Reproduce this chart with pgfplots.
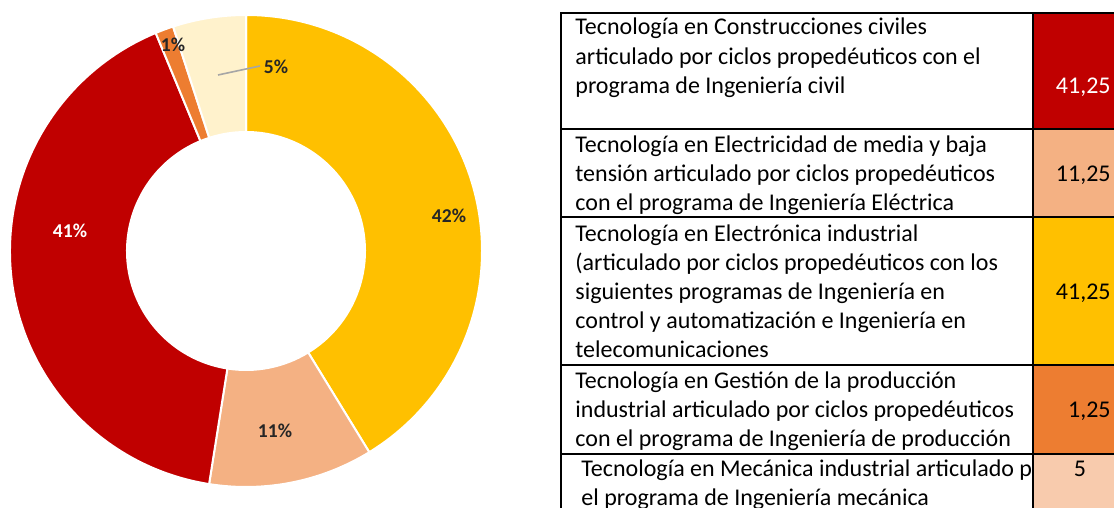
\documentclass[border=0pt]{standalone}
\usepackage{pgfplots}
\usepackage{pgfplotstable}
\pgfplotsset{compat=1.18}
\usepackage{fontspec}
\setmainfont{Carlito}
\definecolor{cRed}{HTML}{C00000}
\definecolor{cSalmon}{HTML}{F4B183}
\definecolor{cYellow}{HTML}{FFC000}
\definecolor{cOrange}{HTML}{ED7D31}
\definecolor{cCream}{HTML}{FFF2CC}
\definecolor{cPeach}{HTML}{F8CBAD}
\definecolor{cLabel}{HTML}{262626}

% donut slices, clockwise from 12 o'clock
\pgfplotstableread{
value color
41.25 cYellow
11.25 cSalmon
41.25 cRed
1.25 cOrange
5 cCream
}\donutdata

\newcommand\tline[3]{\node[anchor=base west, inner sep=0pt, font=\fontsize{12}{14.75}\selectfont] at (axis cs:#1,#2) {#3};}

\begin{document}
\begin{tikzpicture}
\useasboundingbox (0,0) rectangle (557pt,254pt);
\begin{axis}[
  at={(0,0)}, anchor=origin,
  x=0.5pt, y=0.5pt,
  xmin=0, xmax=1114, ymin=0, ymax=508,
  hide axis, clip=true,
]
% ---- donut ----
\xdef\startang{90}
\foreach \i in {0,...,4} {
  \pgfplotstablegetelem{\i}{value}\of\donutdata \let\val\pgfplotsretval
  \pgfplotstablegetelem{\i}{color}\of\donutdata \let\col\pgfplotsretval
  \pgfmathsetmacro\endang{\startang-3.6*\val}
  \edef\temp{\noexpand\fill[fill=\col, draw=white, line width=1pt]
    (axis cs:246,257) ++(\startang:118pt)
    arc[start angle=\startang, end angle=\endang, radius=118pt]
    -- ++(\endang+180:58.5pt)
    arc[start angle=\endang, end angle=\startang, radius=59.5pt] -- cycle;}
  \temp
  \xdef\startang{\endang}
}
% labels
\draw[color=black!35, line width=0.8pt] (axis cs:218,433) -- (axis cs:260,442);
\begin{scope}[every node/.style={font=\fontsize{9.8}{11}\selectfont\bfseries, text=cLabel, inner sep=0pt}]
\node at (axis cs:449,292) {42\%};
\node at (axis cs:275,77) {11\%};
\node[text=white] at (axis cs:70,277) {41\%};
\node at (axis cs:173,463) {1\%};
\node at (axis cs:276,441) {5\%};
\end{scope}
% ---- table ----
\tline{575}{473}{Tecnología en Construcciones civiles}
\tline{575}{443.5}{articulado por ciclos propedéuticos con el}
\tline{575}{414}{programa de Ingeniería civil}
\tline{575}{355}{Tecnología en Electricidad de media y baja}
\tline{575}{326}{tensión articulado por ciclos propedéuticos}
\tline{575}{297}{con el programa de Ingeniería Eléctrica}
\tline{575}{266}{Tecnología en Electrónica industrial}
\tline{575}{237}{(articulado por ciclos propedéuticos con los}
\tline{575}{208}{siguientes programas de Ingeniería en}
\tline{575}{179}{control y automatización e Ingeniería en}
\tline{575}{150}{telecomunicaciones}
\tline{575}{119}{Tecnología en Gestión de la producción}
\tline{575}{90}{industrial articulado por ciclos propedéuticos}
\tline{575}{61}{con el programa de Ingeniería de producción}
\tline{581}{31}{Tecnología en Mecánica industrial articulado p}
\tline{581}{2}{el programa de Ingeniería mecánica}
% coloured value cells
\fill[cRed] (axis cs:1033,495) rectangle (axis cs:1200,379);
\fill[cSalmon] (axis cs:1033,379) rectangle (axis cs:1200,291);
\fill[cYellow] (axis cs:1033,291) rectangle (axis cs:1200,143);
\fill[cOrange] (axis cs:1033,143) rectangle (axis cs:1200,54);
\fill[cPeach] (axis cs:1033,54) rectangle (axis cs:1200,-20);
% grid lines
\draw[line width=0.6pt] (axis cs:561,-20) -- (axis cs:561,495) -- (axis cs:1200,495);
\draw[line width=0.6pt] (axis cs:1033,-20) -- (axis cs:1033,495);
\foreach \yy in {379,291,143,54} {
  \edef\temp{\noexpand\draw[line width=0.6pt] (axis cs:561,\yy) -- (axis cs:1200,\yy);}
  \temp
}
% values
\begin{scope}[every node/.style={font=\fontsize{12}{14.75}\selectfont, inner sep=0pt}]
\node[anchor=base east, text=white] at (axis cs:1111,414) {41,25};
\node[anchor=base east] at (axis cs:1111,326) {11,25};
\node[anchor=base east] at (axis cs:1111,208) {41,25};
\node[anchor=base east] at (axis cs:1111,90) {1,25};
\node[anchor=base] at (axis cs:1080,31) {5};
\end{scope}
\end{axis}
\end{tikzpicture}
\end{document}
